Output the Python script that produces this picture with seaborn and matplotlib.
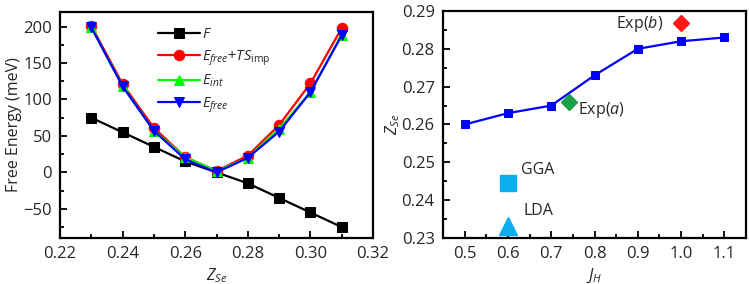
import matplotlib
matplotlib.use("Agg")
import matplotlib.pyplot as plt
import seaborn as sns
import pandas as pd
from matplotlib.ticker import MultipleLocator

sns.set_style("ticks")
plt.rcParams['font.family'] = ['Open Sans', 'DejaVu Sans']
plt.rcParams['mathtext.fontset'] = 'custom'
plt.rcParams['mathtext.rm'] = 'Open Sans'
plt.rcParams['mathtext.it'] = 'Open Sans:italic'

# Left panel data
z_se = [0.23, 0.24, 0.25, 0.26, 0.27, 0.28, 0.29, 0.30, 0.31]
F_vals = [75, 55, 35, 15, 0, -15, -35, -55, -75]
efree_ts = [201, 121, 61, 21, 2, 23, 65, 122, 198]
eint = [199, 118, 57, 21, 2, 20, 60, 110, 189]
efree = [199, 118, 57, 18, 0, 20, 56, 110, 188]

# Right panel data
jh = [0.5, 0.6, 0.7, 0.8, 0.9, 1.0, 1.1]
zse_jh = [0.260, 0.263, 0.265, 0.273, 0.280, 0.282, 0.283]
exp_a = (0.74, 0.266)
exp_b = (1.0, 0.2867)
gga = (0.6, 0.2445)
lda = (0.6, 0.2333)

fig = plt.figure(figsize=(7.49, 2.84), dpi=100)
ax1 = fig.add_axes([60/749, 1-238/284, 313/749, 226/284])
ax2 = fig.add_axes([443/749, 1-238/284, 303/749, 227/284])

series = [
    (F_vals, 'black', 's', r'$F$'),
    (efree_ts, 'red', 'o', r'$E_{free}$+$TS_{\mathrm{imp}}$'),
    (eint, '#00ff00', '^', r'$E_{int}$'),
    (efree, 'blue', 'v', r'$E_{free}$'),
]
for vals, c, m, lab in series:
    df = pd.DataFrame({'x': z_se, 'y': vals})
    sns.lineplot(data=df, x='x', y='y', ax=ax1, color=c, marker=m, markersize=7.5,
                 markeredgecolor=c, linewidth=1.6, label=lab)

ax1.set_xlim(0.22, 0.32)
ax1.set_ylim(-90, 220)
ax1.xaxis.set_major_locator(MultipleLocator(0.02))
ax1.xaxis.set_minor_locator(MultipleLocator(0.01))
ax1.yaxis.set_major_locator(MultipleLocator(50))
ax1.yaxis.set_minor_locator(MultipleLocator(25))
ax1.xaxis.set_major_formatter(plt.FormatStrFormatter('%.2f'))
ax1.set_xlabel(r'$Z_{Se}$', fontsize=11.5, labelpad=3)
ax1.set_ylabel('Free Energy (meV)', fontsize=11.5, labelpad=1)
leg = ax1.legend(loc='upper left', bbox_to_anchor=(0.27, 0.99), frameon=False,
                 fontsize=10.5, handlelength=2.9, labelspacing=0.38, handletextpad=0.15)

# Right panel
df2 = pd.DataFrame({'x': jh, 'y': zse_jh})
sns.lineplot(data=df2, x='x', y='y', ax=ax2, color='blue', marker='s', markersize=6,
             markeredgecolor='blue', linewidth=1.6)
ax2.plot([exp_a[0]], [exp_a[1]], marker='D', color='#1aa14a', markersize=8, linestyle='none')
ax2.plot([exp_b[0]], [exp_b[1]], marker='D', color='#ff1a1a', markersize=8, linestyle='none')
ax2.plot([gga[0]], [gga[1]], marker='s', color='#0aaeef', markersize=11, linestyle='none')
ax2.plot([lda[0]], [lda[1]], marker='^', color='#0aaeef', markersize=13, linestyle='none')
ax2.text(0.762, 0.2638, r'Exp($a$)', fontsize=11.5, va='center')
ax2.text(0.958, 0.2866, r'Exp($b$)', fontsize=11.5, va='center', ha='right')
ax2.text(0.63, 0.248, 'GGA', fontsize=11.5, va='center')
ax2.text(0.635, 0.2371, 'LDA', fontsize=11.5, va='center')

ax2.set_xlim(0.45, 1.15)
ax2.set_ylim(0.23, 0.29)
ax2.xaxis.set_major_locator(MultipleLocator(0.1))
ax2.xaxis.set_minor_locator(MultipleLocator(0.05))
ax2.yaxis.set_major_locator(MultipleLocator(0.01))
ax2.yaxis.set_minor_locator(MultipleLocator(0.005))
ax2.xaxis.set_major_formatter(plt.FormatStrFormatter('%.1f'))
ax2.yaxis.set_major_formatter(plt.FormatStrFormatter('%.2f'))
ax2.set_xlabel(r'$J_H$', fontsize=11.5, labelpad=3)
ax2.set_ylabel(r'$Z_{Se}$', fontsize=11.5, labelpad=0)

for ax in (ax1, ax2):
    for s in ax.spines.values():
        s.set_linewidth(1.6)
        s.set_color('black')
    ax.tick_params(which='both', direction='in', labelsize=12, width=1.3, color='black')
    ax.tick_params(which='major', length=5, pad=6)
    ax.tick_params(which='minor', length=3)

fig.savefig('out.png', dpi=100)
